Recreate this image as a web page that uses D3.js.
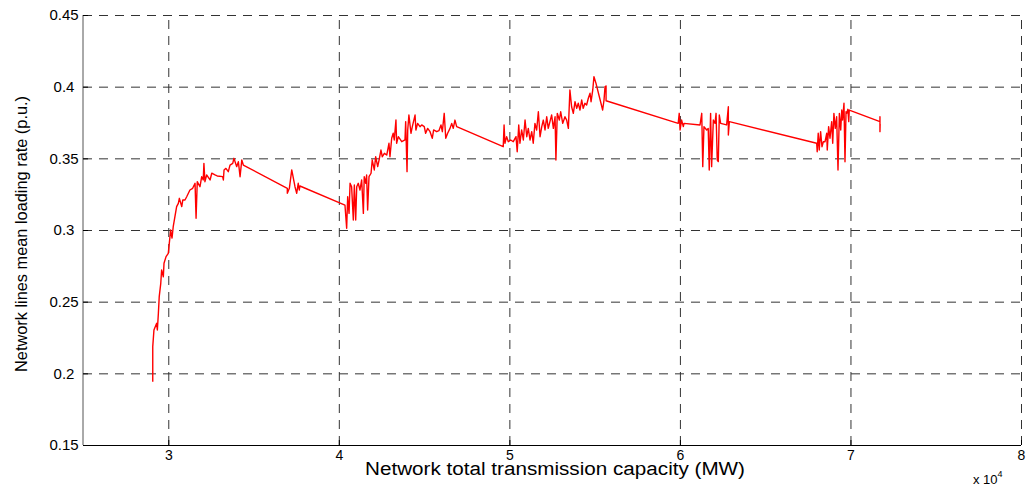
<!DOCTYPE html>
<html>
<head>
<meta charset="utf-8">
<script src="https://cdn.jsdelivr.net/npm/d3@7"></script>
<style>
  body { margin: 0; background: #fff; }
  svg { display: block; font-family: Arial, "Liberation Sans", sans-serif; }
</style>
</head>
<body>
<div id="app"></div>
<script>
// total transmission capacity (MW)
const capacityMW = [
  29090, 29090, 29160, 29320, 29360, 29420, 29470, 29560, 29610, 29710,
  29750, 29870, 30000, 30060, 30140, 30220, 30290, 30390, 30490, 30590,
  30650, 30790, 30850, 30980, 31080, 31270, 31430, 31570, 31630, 31700,
  31860, 31960, 32050, 32090, 32150, 32250, 32450, 32550, 32740, 32870,
  33190, 33230, 33270, 33380, 33520, 33620, 33780, 33850, 34010, 34110,
  34210, 34310, 34400,
  36980, 36980, 37100, 37240, 37430, 37530, 37620, 37680, 37720,
  40360, 40460, 40520, 40600, 40660, 40750, 40850, 40910, 40990, 41050,
  41140, 41240, 41340, 41440, 41490, 41580, 41630, 41690, 41770, 41890,
  41960, 42080, 42160, 42280, 42360, 42470, 42550, 42670, 42810, 42940,
  43000, 43100, 43190, 43250, 43350, 43390, 43490, 43690, 43880, 43920,
  44000, 44040, 44110, 44230, 44310, 44470, 44520, 44620, 44760, 44860,
  45010, 45090, 45210, 45350, 45480, 45560, 45740, 45870, 45990, 46070,
  46180, 46270, 46380, 46520, 46620, 46710, 46810, 46910,
  49640, 49690, 49740, 49840, 49940, 50080, 50230, 50390, 50460, 50550,
  50620, 50720, 50820, 50920, 51020, 51110, 51210, 51310, 51400, 51500,
  51600, 51700, 51800, 51900, 51990, 52090, 52190, 52280, 52380, 52480,
  52580, 52680, 52730, 52810, 52930, 53010, 53130, 53260, 53360, 53460,
  53550, 53650, 53750, 53850, 53950, 54040, 54140, 54240, 54330, 54430,
  54530, 54630, 54730, 54790, 54890, 54960, 55080, 55470, 55550, 55610,
  55670, 55670,
  59900, 59960, 60010, 60100, 60200, 60240, 61180, 61280, 61340, 61410,
  61570, 61660, 61720, 61800, 61860, 61960, 62060, 62120, 62190, 62250,
  62310, 62390, 62740, 62840, 62840, 62900,
  68020, 68050, 68110, 68170, 68250, 68330, 68410, 68510, 68610, 68640,
  68720, 68800, 68900, 68960, 69030, 69110, 69190, 69270, 69350, 69430,
  69490, 69540, 69620, 69680, 69740, 69780, 69850, 69900, 69930,
  71730, 71730, 71730, 71740
];

// mean loading rate (p.u.) for each capacity above
const loadingRate = [
  0.1942, 0.2186, 0.2302, 0.2349, 0.2302, 0.2419, 0.2535, 0.2628, 0.2721, 0.2674,
  0.2768, 0.2814, 0.2837, 0.2907, 0.3000, 0.2944, 0.3023, 0.3093, 0.3163, 0.3186,
  0.3221, 0.3163, 0.3209, 0.3209, 0.3232, 0.3279, 0.3291, 0.3326, 0.3082, 0.3337,
  0.3302, 0.3372, 0.3349, 0.3465, 0.3337, 0.3384, 0.3349, 0.3396, 0.3384, 0.3377,
  0.3372, 0.3349, 0.3419, 0.3430, 0.3407, 0.3453, 0.3465, 0.3500, 0.3442, 0.3476,
  0.3372, 0.3488, 0.3453,
  0.3291, 0.3256, 0.3291, 0.3419, 0.3302, 0.3256, 0.3326, 0.3279, 0.3307,
  0.3174, 0.3012, 0.3232, 0.3116, 0.3326, 0.3302, 0.3070, 0.3314, 0.3070, 0.3302,
  0.3326, 0.3279, 0.3349, 0.3116, 0.3372, 0.3326, 0.3384, 0.3139, 0.3372, 0.3396,
  0.3488, 0.3419, 0.3511, 0.3442, 0.3488, 0.3558, 0.3511, 0.3535, 0.3523, 0.3605,
  0.3511, 0.3640, 0.3675, 0.3628, 0.3767, 0.3605, 0.3651, 0.3616, 0.3628, 0.3756,
  0.3407, 0.3698, 0.3802, 0.3675, 0.3721, 0.3802, 0.3698, 0.3744, 0.3721, 0.3733,
  0.3721, 0.3675, 0.3709, 0.3686, 0.3640, 0.3698, 0.3686, 0.3693, 0.3733, 0.3686,
  0.3814, 0.3640, 0.3675, 0.3709, 0.3744, 0.3709, 0.3767, 0.3721,
  0.3581, 0.3733, 0.3605, 0.3651, 0.3616, 0.3628, 0.3616, 0.3651, 0.3546, 0.3733,
  0.3605, 0.3698, 0.3628, 0.3767, 0.3651, 0.3709, 0.3628, 0.3686, 0.3605, 0.3744,
  0.3698, 0.3825, 0.3651, 0.3721, 0.3767, 0.3698, 0.3790, 0.3709, 0.3756, 0.3802,
  0.3709, 0.3790, 0.3488, 0.3814, 0.3767, 0.3825, 0.3744, 0.3790, 0.3767, 0.3709,
  0.3977, 0.3860, 0.3814, 0.3895, 0.3849, 0.3884, 0.3837, 0.3907, 0.3849, 0.3884,
  0.3872, 0.3919, 0.3954, 0.3895, 0.3977, 0.4070, 0.4023, 0.3837, 0.3907, 0.4000,
  0.4005, 0.3902,
  0.3744, 0.3814, 0.3698, 0.3767, 0.3721, 0.3744, 0.3733, 0.3814, 0.3442, 0.3721,
  0.3698, 0.3709, 0.3419, 0.3814, 0.3442, 0.3767, 0.3744, 0.3814, 0.3488, 0.3477,
  0.3802, 0.3744, 0.3733, 0.3860, 0.3663, 0.3756,
  0.3605, 0.3546, 0.3675, 0.3558, 0.3686, 0.3581, 0.3616, 0.3616, 0.3675, 0.3558,
  0.3721, 0.3640, 0.3756, 0.3605, 0.3814, 0.3709, 0.3790, 0.3419, 0.3814, 0.3698,
  0.3837, 0.3767, 0.3884, 0.3476, 0.3825, 0.3814, 0.3842, 0.3756, 0.3837,
  0.3756, 0.3790, 0.3686, 0.3739
];

const xTicks = [30000, 40000, 50000, 60000, 70000, 80000];
const yTicks = [0.15, 0.2, 0.25, 0.3, 0.35, 0.4, 0.45];

const width = 1026, height = 488;
const margin = { top: 15, right: 5, bottom: 43, left: 83 };
const innerW = width - margin.left - margin.right;
const innerH = height - margin.top - margin.bottom;

const points = capacityMW.map((c, i) => ({ x: c, y: loadingRate[i] }));

const x = d3.scaleLinear().domain([25000, 80000]).range([0, innerW]);
const y = d3.scaleLinear().domain([0.15, 0.45]).range([innerH, 0]);

const svg = d3.select("#app").append("svg")
    .attr("width", width)
    .attr("height", height);

svg.append("rect").attr("width", width).attr("height", height).attr("fill", "#fff");

const g = svg.append("g").attr("transform", `translate(${margin.left},${margin.top})`);

// dashed grid (top and right edges are just grid lines here)
const gridX = g.append("g")
    .attr("transform", `translate(0,${innerH})`)
    .call(d3.axisBottom(x).tickValues(xTicks).tickSize(-innerH).tickFormat(""));
const gridY = g.append("g")
    .call(d3.axisLeft(y).tickValues(yTicks.slice(1)).tickSize(-innerW).tickFormat(""));
[gridX, gridY].forEach(gr => {
    gr.select(".domain").remove();
    gr.selectAll("line")
        .attr("stroke", "#333")
        .attr("stroke-dasharray", "9,7");
});

// data line
g.append("path")
    .datum(points)
    .attr("fill", "none")
    .attr("stroke", "#ff0000")
    .attr("stroke-width", 1.4)
    .attr("stroke-linejoin", "round")
    .attr("d", d3.line().x(d => x(d.x)).y(d => y(d.y)));

// axes, ticks pointing inward like matlab
const xAxis = g.append("g")
    .attr("transform", `translate(0,${innerH})`)
    .call(d3.axisBottom(x).tickValues(xTicks).tickSize(-5).tickPadding(5)
        .tickFormat(d => d / 10000));
xAxis.select(".domain").attr("stroke", "#000").attr("d", `M0,0.5H${innerW}`);
xAxis.selectAll("text").attr("font-size", 14).attr("fill", "#000")
    .attr("font-family", "Arial, 'Liberation Sans', sans-serif");

const yAxis = g.append("g")
    .call(d3.axisLeft(y).tickValues(yTicks).tickSize(-5).tickPadding(19)
        .tickFormat(d => String(+d.toFixed(2))));
yAxis.select(".domain").attr("stroke", "#555").attr("d", `M0,0V${innerH}`);
yAxis.selectAll("text").attr("font-size", 15).attr("fill", "#000")
    .attr("text-anchor", "middle")
    .attr("font-family", "Arial, 'Liberation Sans', sans-serif");

// labels
svg.append("text")
    .attr("x", 555)
    .attr("y", 475)
    .attr("text-anchor", "middle")
    .attr("font-size", 18)
    .attr("textLength", 380)
    .attr("lengthAdjust", "spacingAndGlyphs")
    .text("Network total transmission capacity (MW)");

svg.append("text")
    .attr("transform", "translate(27,234) rotate(-90)")
    .attr("text-anchor", "middle")
    .attr("font-size", 17)
    .attr("textLength", 276)
    .attr("lengthAdjust", "spacingAndGlyphs")
    .text("Network lines mean loading rate (p.u.)");

const expo = svg.append("text")
    .attr("x", 973)
    .attr("y", 484)
    .attr("font-size", 13);
expo.append("tspan").text("x 10");
expo.append("tspan").attr("dy", -7).attr("font-size", 9).text("4");
</script>
</body>
</html>
